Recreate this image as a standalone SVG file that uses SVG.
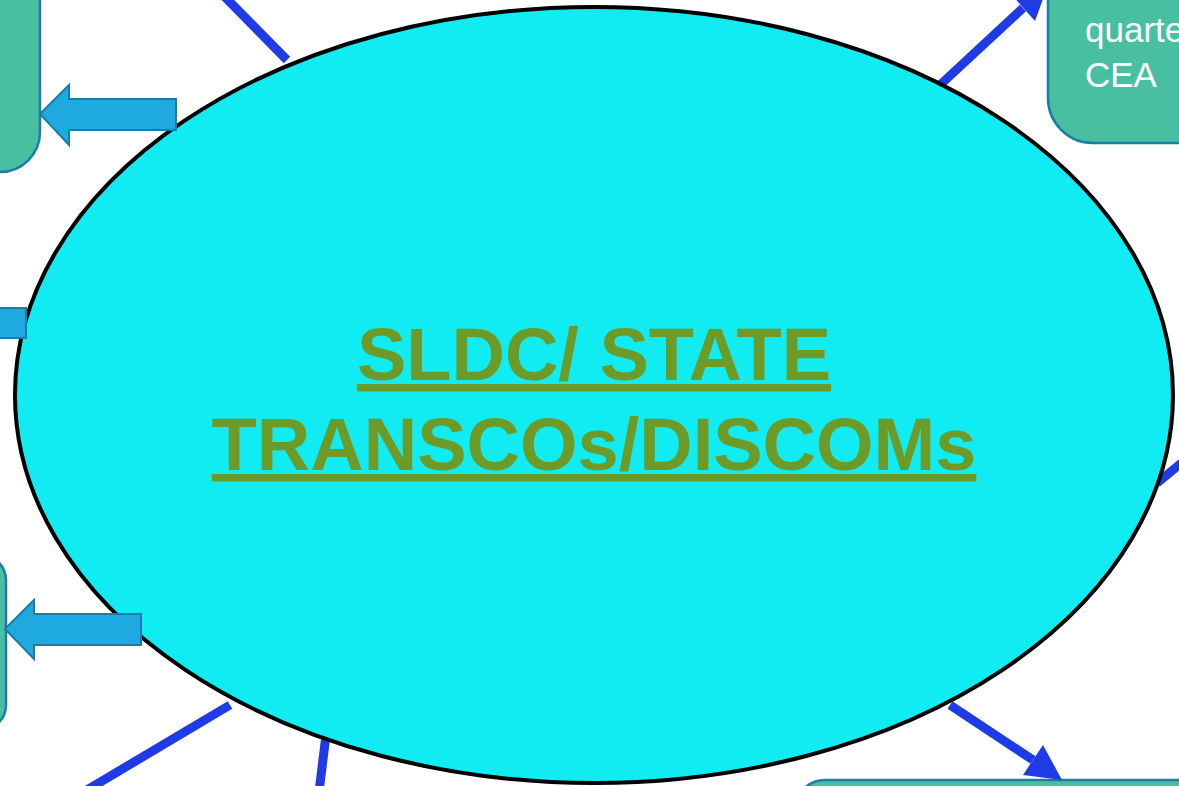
<svg xmlns="http://www.w3.org/2000/svg" width="1179" height="786" viewBox="0 0 1179 786">
<style>
.box{fill:#48BFA0;stroke:#1A7CA8;stroke-width:2.5}
.barrow{fill:#1EAAE0;stroke:#1A7CA8;stroke-width:2}
.conn{stroke:#1F3BE5;stroke-width:9;fill:none}
.head{fill:#1F3BE5}
.boxtxt{font-family:"Liberation Sans",Arial,sans-serif;font-size:35px;fill:#FFFFFF}
.main{font-family:"Liberation Sans",Arial,sans-serif;font-size:74px;font-weight:bold;fill:#6E9A28;text-decoration:underline;text-anchor:middle}
</style>
<rect width="1179" height="786" fill="#FFFFFF"/>
<g id="box-top-left"><rect class="box" x="-60" y="-60" width="100" height="232" rx="40"/></g>
<g id="box-top-right"><rect class="box" x="1048" y="-60" width="220" height="203" rx="45"/>
<text class="boxtxt" x="1085" y="42">quarte</text><text class="boxtxt" x="1085" y="87">CEA</text></g>
<g id="box-bottom-left"><rect class="box" x="-100" y="555" width="106" height="175" rx="25"/></g>
<g id="box-bottom-right"><rect class="box" x="795" y="780" width="500" height="100" rx="30"/></g>
<g id="connectors">
<line class="conn" x1="287" y1="60" x2="222" y2="-6"/>
<line class="conn" x1="940" y1="85" x2="1023" y2="8"/>
<polygon class="head" points="1011,-6 1035,21 1047,-12"/>
<line class="conn" x1="1157" y1="483" x2="1190" y2="456"/>
<line class="conn" x1="950" y1="705" x2="1033" y2="760"/>
<polygon class="head" points="1043,745 1023,775 1062,780"/>
<line class="conn" x1="230" y1="705" x2="60" y2="806"/>
<line class="conn" x1="326" y1="735" x2="318" y2="800"/>
</g>
<g id="center">
<ellipse cx="594" cy="395" rx="579" ry="388" fill="#10ECF2" stroke="#000000" stroke-width="4"/>
<text class="main" x="594" y="380">SLDC/ STATE</text>
<text class="main" x="594" y="470">TRANSCOs/DISCOMs</text>
</g>
<g id="block-arrows">
<polygon class="barrow" points="40,114 69,85 69,99 176,99 176,130 69,130 69,145"/>
<polygon class="barrow" points="-80,323 -51,294 -51,308 26,308 26,338 -51,338 -51,352"/>
<polygon class="barrow" points="5,629 34,600 34,614 141,614 141,645 34,645 34,659"/>
</g>
</svg>
